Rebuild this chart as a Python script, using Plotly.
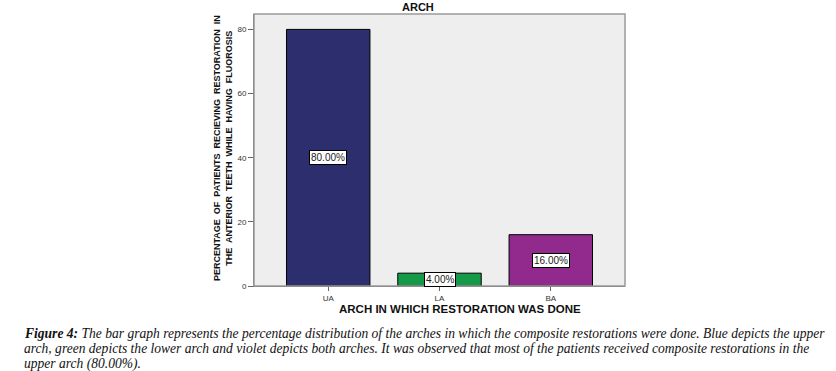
import plotly.graph_objects as go

categories = ["UA", "LA", "BA"]
values = [80.0, 4.0, 16.0]
bar_colors = ["#2d2e6d", "#149a48", "#922a8e"]
y_ticks = [0, 20, 40, 60, 80]

title_text = "ARCH"
x_title = "ARCH IN WHICH RESTORATION WAS DONE"
y_title = "PERCENTAGE  OF  PATIENTS  RECIEVING  RESTORATION  IN<br>THE  ANTERIOR  TEETH  WHILE  HAVING  FLUOROSIS"
caption_lines = [
    "<b>Figure 4:</b> The bar graph represents the percentage distribution of the arches in which the composite restorations were done. Blue depicts the upper",
    "arch, green depicts the lower arch and violet depicts both arches. It was observed that most of the patients received composite restorations in the",
    "upper arch (80.00%).",
]

W, H = 836, 371
L, R, T, B = 254, 625, 14, 286
pw, ph = R - L, B - T

def px(x):
    return (x - L) / pw

def py(y):
    return (B - y) / ph

fig = go.Figure()
fig.add_trace(go.Bar(
    x=list(range(len(categories))), y=values,
    marker=dict(color=bar_colors, line=dict(color="#000000", width=1)),
    width=0.75, showlegend=False, hoverinfo="skip",
))

annotations = []
for i, v in enumerate(values):
    annotations.append(dict(
        x=i, y=v / 2, xref="x", yref="y", text=f"{v:.2f}%", showarrow=False,
        font=dict(family="Arial, Liberation Sans", size=10, color="#222222"),
        bgcolor="#ffffff", bordercolor="#000000", borderwidth=1, borderpad=1,
    ))

annotations.append(dict(
    x=px(418), y=py(7), xref="paper", yref="paper", text=f"<b>{title_text}</b>",
    showarrow=False, font=dict(family="Arial, Liberation Sans", size=11, color="#111111"),
    xanchor="center", yanchor="middle",
))
annotations.append(dict(
    x=px(460), y=py(309), xref="paper", yref="paper", text=f"<b>{x_title}</b>",
    showarrow=False, font=dict(family="Arial, Liberation Sans", size=11.5, color="#111111"),
    xanchor="center", yanchor="middle",
))
annotations.append(dict(
    x=px(223), y=py(148), xref="paper", yref="paper", text=f"<b>{y_title}</b>",
    showarrow=False, textangle=-90,
    font=dict(family="Arial, Liberation Sans", size=9, color="#111111"),
    xanchor="center", yanchor="middle",
))
for k, line in enumerate(caption_lines):
    annotations.append(dict(
        x=px(22), y=py(333 + 15.5 * k), xref="paper", yref="paper",
        text=f"<i>{line}</i>", showarrow=False, align="left",
        font=dict(family="Liberation Serif, Times New Roman, serif", size=13.55, color="#111111"),
        xanchor="left", yanchor="middle",
    ))

fig.update_layout(
    width=W, height=H,
    margin=dict(l=L, r=W - R, t=T, b=H - B),
    paper_bgcolor="#ffffff", plot_bgcolor="#eeeeee",
    bargap=0.25,
    annotations=annotations,
    shapes=[dict(type="rect", xref="paper", yref="paper", x0=0, x1=1, y0=0, y1=1,
                 line=dict(color="#9a9a9a", width=1.5), layer="above")],
    xaxis=dict(
        range=[-0.667, 2.667], tickmode="array",
        tickvals=list(range(len(categories))), ticktext=categories,
        ticks="outside", ticklen=4, tickcolor="#666666",
        showline=True, linecolor="#666666", linewidth=1,
        showgrid=False, zeroline=False,
        tickfont=dict(family="Arial, Liberation Sans", size=8, color="#333333"),
    ),
    yaxis=dict(
        range=[0, 84.8], tickmode="array", tickvals=y_ticks,
        ticks="outside", ticklen=5, tickcolor="#666666",
        showline=True, linecolor="#666666", linewidth=1,
        showgrid=False, zeroline=False,
        tickfont=dict(family="Arial, Liberation Sans", size=8, color="#333333"),
    ),
)

fig.write_html("out.html", config={"displayModeBar": False},
               post_script="document.body.style.margin='0';document.body.style.overflow='hidden';")
